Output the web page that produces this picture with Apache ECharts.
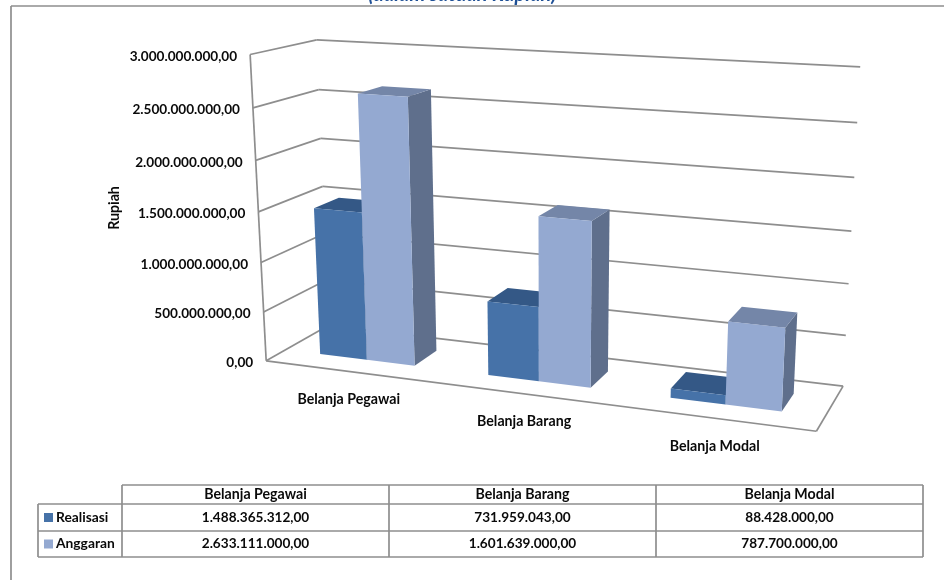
<!DOCTYPE html>
<html>
<head>
<meta charset="utf-8">
<title>Realisasi dan Anggaran</title>
<script src="https://cdn.jsdelivr.net/npm/echarts@6/dist/echarts.min.js"></script>
<style>
  html, body { margin: 0; padding: 0; background: #fff; }
  #chart { width: 944px; height: 580px; }
</style>
</head>
<body>
<div id="chart"></div>
<script>
var categories = ['Belanja Pegawai', 'Belanja Barang', 'Belanja Modal'];
var seriesNames = ['Realisasi', 'Anggaran'];
var realisasi = [1488365312, 731959043, 88428000];
var anggaran = [2633111000, 1601639000, 787700000];
var yTicks = [0, 500000000, 1000000000, 1500000000, 2000000000, 2500000000, 3000000000];

var yMax = 3000000000;
var font = 'bold 13.6px Lato, "Open Sans", sans-serif';
var wordFont = 'bold 14.2px Lato, "Open Sans", sans-serif';
var textColor = '#0a0a0a';
var lineColor = '#8e8e8e';
var colors = [
  { front: '#4672a8', top: '#345886', side: '#30507c' },
  { front: '#94a9d1', top: '#7486a8', side: '#5f6f8c' }
];

// the chart is a tilted 3D box: known points [u, depth, value, px, py]
var boxCorners = [
  [0, 0, 0, 266, 361], [1, 0, 0, 817, 433], [1, 1, 0, 843, 384], [0, 1, 0, 329, 331],
  [0, 0, 1, 250, 55], [0, 1, 1, 317, 38], [1, 1, 1, 860, 67],
  // feet and tops of the first and last bars
  [0.0714, 0.3, 0, 320, 353], [0.1667, 0.3, 0, 366, 358], [0.2619, 0.3, 0, 415, 364], [0.2619, 0.7, 0, 436, 348],
  [0.7381, 0.3, 0, 671, 398], [0.8333, 0.3, 0, 726, 404], [0.9286, 0.3, 0, 782, 412], [0.9286, 0.7, 0, 793, 395],
  [0.1667, 0.3, 0.8777, 358, 95], [0.8333, 0.3, 0.2626, 728, 322], [0.9286, 0.3, 0.2626, 785, 328]
];

function solve(A, b) {
  var n = b.length;
  for (var i = 0; i < n; i++) {
    var p = i;
    for (var r = i + 1; r < n; r++) {
      if (Math.abs(A[r][i]) > Math.abs(A[p][i])) p = r;
    }
    var t = A[i]; A[i] = A[p]; A[p] = t;
    t = b[i]; b[i] = b[p]; b[p] = t;
    for (r = i + 1; r < n; r++) {
      var f = A[r][i] / A[i][i];
      for (var c = i; c < n; c++) A[r][c] -= f * A[i][c];
      b[r] -= f * b[i];
    }
  }
  var x = [];
  for (i = n - 1; i >= 0; i--) {
    var s = b[i];
    for (c = i + 1; c < n; c++) s -= A[i][c] * x[c];
    x[i] = s / A[i][i];
  }
  return x;
}

// least squares fit of the 3x4 perspective matrix
function fitProjection(anchors) {
  var rows = [], rhs = [];
  anchors.forEach(function (a) {
    var u = a[0], d = a[1], v = a[2], x = a[3], y = a[4];
    rows.push([u, d, v, 1, 0, 0, 0, 0, -x * u, -x * d, -x * v]); rhs.push(x);
    rows.push([0, 0, 0, 0, u, d, v, 1, -y * u, -y * d, -y * v]); rhs.push(y);
  });
  var A = [], b = [];
  for (var i = 0; i < 11; i++) {
    A[i] = [];
    b[i] = 0;
    for (var j = 0; j < 11; j++) {
      A[i][j] = 0;
      for (var k = 0; k < rows.length; k++) A[i][j] += rows[k][i] * rows[k][j];
    }
    for (k = 0; k < rows.length; k++) b[i] += rows[k][i] * rhs[k];
  }
  return solve(A, b);
}

var m = fitProjection(boxCorners);

function project(u, d, v) {
  var w = m[8] * u + m[9] * d + m[10] * v + 1;
  return [
    (m[0] * u + m[1] * d + m[2] * v + m[3]) / w,
    (m[4] * u + m[5] * d + m[6] * v + m[7]) / w
  ];
}

// axis scale -> unit box, then perspective
function toBox(api, params, x, val, d) {
  var c = api.coord([x, val]);
  var r = params.coordSys;
  return project((c[0] - r.x) / r.width, d, 1 - (c[1] - r.y) / r.height);
}

function fmt(n) {
  return n.toFixed(2).replace('.', ',').replace(/\B(?=(\d{3})+(?!\d))/g, '.');
}

function line(a, b) {
  return {
    type: 'line',
    shape: { x1: a[0], y1: a[1], x2: b[0], y2: b[1] },
    style: { stroke: lineColor, lineWidth: 1.7 }
  };
}

function poly(points, fill) {
  return { type: 'polygon', shape: { points: points }, style: { fill: fill } };
}

function renderGridLine(params, api) {
  var val = api.value(0);
  var front = toBox(api, params, 0, val, 0);
  var back = toBox(api, params, 0, val, 1);
  var right = toBox(api, params, 3, val, 1);
  return {
    type: 'group',
    children: [
      line(front, back),
      line(back, right),
      {
        type: 'text',
        style: {
          x: front[0] - 13, y: front[1] + 2, text: fmt(val), font: font, fill: textColor,
          align: 'right', verticalAlign: 'middle'
        }
      }
    ]
  };
}

function renderBox(params, api) {
  var top = toBox(api, params, 0, yMax, 0);
  var bottom = toBox(api, params, 0, 0, 0);
  var fr = toBox(api, params, 3, 0, 0);
  var br = toBox(api, params, 3, 0, 1);
  return {
    type: 'group',
    children: [line(top, bottom), line(bottom, fr), line(fr, br)]
  };
}

function renderCategoryLabel(params, api) {
  var p = toBox(api, params, api.value(0) + 0.5, 0, 0);
  return {
    type: 'text',
    style: {
      x: p[0], y: p[1] + 28, text: categories[api.value(0)], font: wordFont, fill: textColor,
      align: 'center', verticalAlign: 'middle'
    }
  };
}

// bars sit 3/10 to 7/10 into the depth, gap is 1.5 bar widths
function renderBar(which) {
  return function (params, api) {
    var i = api.value(0), val = api.value(1);
    var w = 1 / 3.5;
    var x0 = i + 0.5 - w + which * w, x1 = x0 + w;
    var df = 0.3, db = 0.7;
    var fl = toBox(api, params, x0, val, df), fr = toBox(api, params, x1, val, df);
    var bl = toBox(api, params, x0, val, db), br = toBox(api, params, x1, val, db);
    var fl0 = toBox(api, params, x0, 0, df), fr0 = toBox(api, params, x1, 0, df);
    var br0 = toBox(api, params, x1, 0, db);
    var col = colors[which];
    return {
      type: 'group',
      children: [
        poly([fr, br, br0, fr0], col.side),
        poly([fl, fr, br, bl], col.top),
        poly([fl, fr, fr0, fl0], col.front)
      ]
    };
  };
}

function barData(values) {
  return values.map(function (v, i) { return [i, v]; });
}

// data table under the plot
function tableGraphics() {
  var out = [];
  var colX = [122, 389, 656, 923];
  var rowY = [485, 504, 531, 557];
  var left = 38;
  function hline(x1, x2, y) {
    out.push({ type: 'line', shape: { x1: x1, y1: y, x2: x2, y2: y }, style: { stroke: lineColor, lineWidth: 1.7 } });
  }
  function vline(x, y1, y2) {
    out.push({ type: 'line', shape: { x1: x, y1: y1, x2: x, y2: y2 }, style: { stroke: lineColor, lineWidth: 1.7 } });
  }
  function label(text, x, y, align, f) {
    out.push({ type: 'text', x: x, y: y, style: { text: text, font: f, fill: textColor, align: align, verticalAlign: 'middle' } });
  }
  hline(colX[0], colX[3], rowY[0]);
  hline(left, colX[3], rowY[1]);
  hline(left, colX[3], rowY[2]);
  hline(left, colX[3], rowY[3]);
  vline(left, rowY[1], rowY[3]);
  colX.forEach(function (x) { vline(x, rowY[0], rowY[3]); });
  categories.forEach(function (c, i) {
    var cx = (colX[i] + colX[i + 1]) / 2;
    label(c, cx, (rowY[0] + rowY[1]) / 2, 'center', wordFont);
    label(fmt(realisasi[i]), cx, (rowY[1] + rowY[2]) / 2, 'center', font);
    label(fmt(anggaran[i]), cx, (rowY[2] + rowY[3]) / 2, 'center', font);
  });
  seriesNames.forEach(function (name, i) {
    var cy = (rowY[i + 1] + rowY[i + 2]) / 2;
    out.push({ type: 'rect', shape: { x: 44, y: cy - 4.5, width: 9, height: 9 }, style: { fill: colors[i].front } });
    label(name, 56, cy, 'left', 'bold 13.8px Lato, "Open Sans", sans-serif');
  });
  return out;
}

// outer frame has only its top and left edge in the picture
var frame = [
  { type: 'line', shape: { x1: 11, y1: 6, x2: 944, y2: 6 }, style: { stroke: lineColor, lineWidth: 1.7 } },
  { type: 'line', shape: { x1: 11, y1: 6, x2: 11, y2: 580 }, style: { stroke: lineColor, lineWidth: 1.7 } },
  {
    type: 'text', x: 114, y: 208, rotation: Math.PI / 2,
    style: { text: 'Rupiah', font: wordFont, fill: textColor, align: 'center', verticalAlign: 'middle' }
  },
  // the title is cut by the top of the picture, only its lower edge shows
  {
    type: 'text', x: 462.5, y: 5,
    style: { text: '(dalam satuan Rupiah)', font: 'italic bold 20px Lato, sans-serif', fill: '#1f5096', align: 'center', verticalAlign: 'bottom' }
  }
];

var myChart = echarts.init(document.getElementById('chart'), null, { renderer: 'canvas' });

var option = {
  animation: false,
  backgroundColor: '#fff',
  grid: { left: 0, right: 0, top: 0, bottom: 0 },
  xAxis: { type: 'value', min: 0, max: 3, show: false },
  yAxis: { type: 'value', min: 0, max: yMax, show: false },
  graphic: { elements: frame.concat(tableGraphics()) },
  series: [
    { type: 'custom', name: 'grid', silent: true, data: yTicks.map(function (v) { return [v, v]; }), encode: { x: 0, y: 1 }, renderItem: renderGridLine },
    { type: 'custom', name: 'box', silent: true, data: [[0, 0]], renderItem: renderBox },
    { type: 'custom', name: 'labels', silent: true, data: categories.map(function (c, i) { return [i, 0]; }), renderItem: renderCategoryLabel },
    { type: 'custom', name: seriesNames[0], data: barData(realisasi), renderItem: renderBar(0), z: 3 },
    { type: 'custom', name: seriesNames[1], data: barData(anggaran), renderItem: renderBar(1), z: 4 }
  ]
};

myChart.setOption(option);
</script>
</body>
</html>
